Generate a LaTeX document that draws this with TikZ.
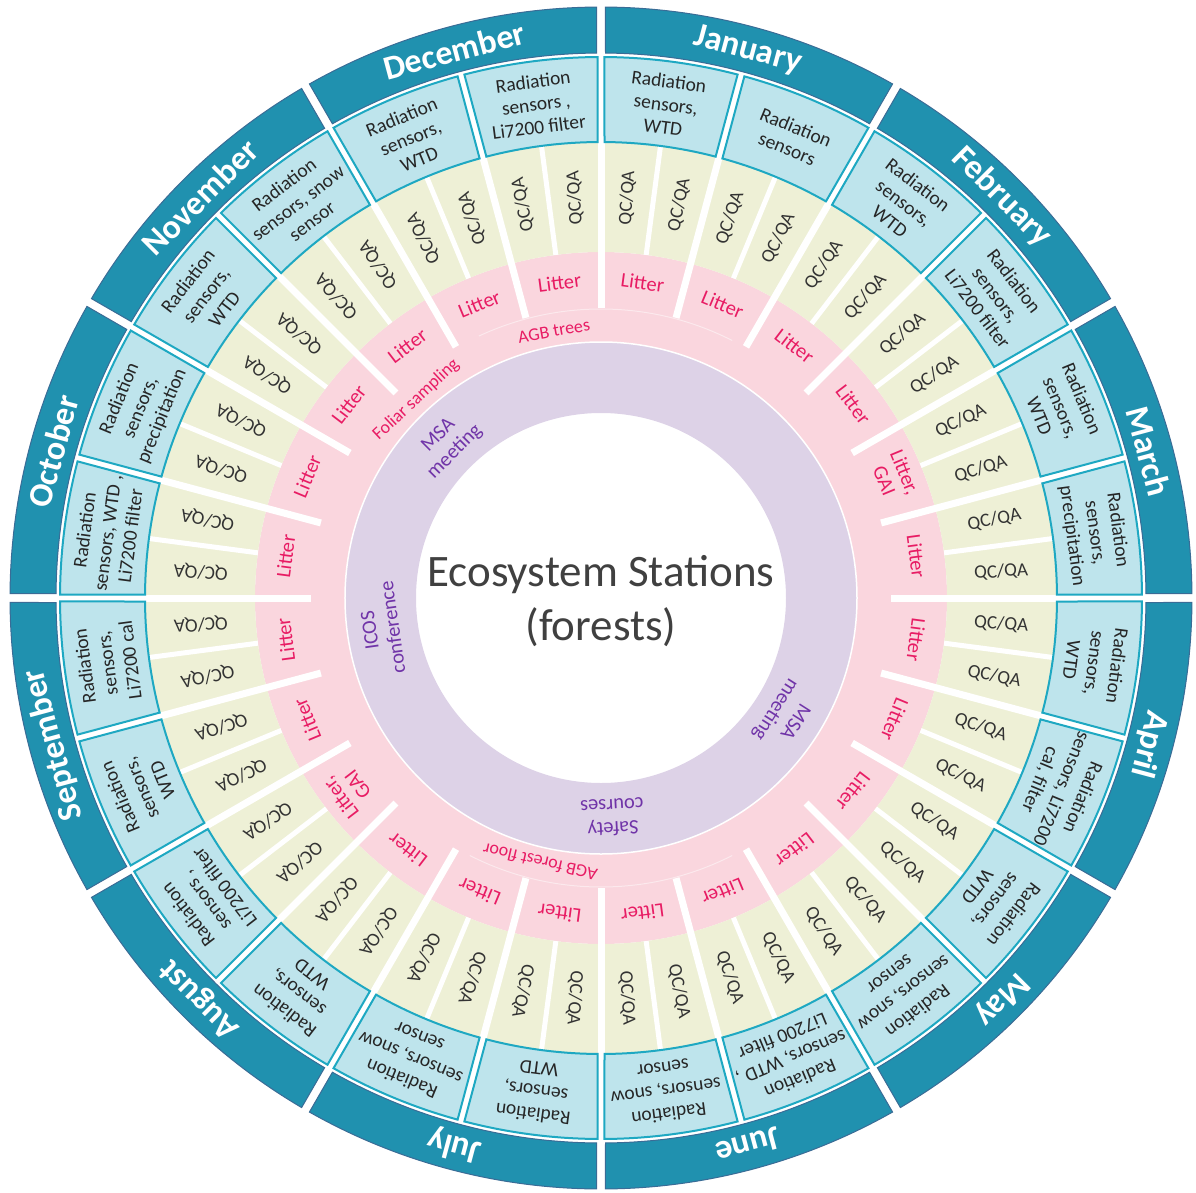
\documentclass[tikz,border=0pt]{standalone}
\usepackage{fontspec}
\setmainfont{Carlito}

\definecolor{monthteal}{RGB}{32,145,175}
\definecolor{monthedge}{RGB}{58,108,150}
\definecolor{boxblue}{RGB}{190,228,236}
\definecolor{boxedge}{RGB}{30,168,194}
\definecolor{qcbeige}{RGB}{238,240,214}
\definecolor{litterpink}{RGB}{250,214,222}
\definecolor{littertext}{RGB}{232,28,100}
\definecolor{eventlilac}{RGB}{221,210,231}
\definecolor{eventtext}{RGB}{112,52,168}
\definecolor{titlegray}{RGB}{64,64,64}

% annular sector with parallel gaps: start angle, end angle, inner r, outer r, half gap, style
\newcommand\ringsector[6]{%
  \pgfmathsetmacro\rsOa{#1-asin(#5/#4)}%
  \pgfmathsetmacro\rsOb{#2+asin(#5/#4)}%
  \pgfmathsetmacro\rsIa{#1-asin(#5/#3)}%
  \pgfmathsetmacro\rsIb{#2+asin(#5/#3)}%
  \draw[#6] (\rsOa:#4) arc[start angle=\rsOa, end angle=\rsOb, radius=#4]
    -- (\rsIb:#3) arc[start angle=\rsIb, end angle=\rsIa, radius=#3] -- cycle;
}

\begin{document}
\begin{tikzpicture}[
  x=1pt, y=1pt,
  monthseg/.style={fill=monthteal, draw=monthedge, line width=1pt},
  boxseg/.style={fill=boxblue, draw=boxedge, line width=2pt},
  gapline/.style={white, line width=7pt},
  thingap/.style={white, line width=5pt},
  monthtxt/.style={inner sep=0pt, font=\fontsize{34}{40}\selectfont\bfseries, text=white},
  boxtext/.style={align=center, font=\fontsize{19.5}{23}\selectfont, text=black!85},
  qctext/.style={font=\fontsize{19}{21}\selectfont, text=black!80},
  littertxt/.style={align=center, font=\fontsize{20.5}{22}\selectfont, text=littertext},
  sampletxt/.style={font=\fontsize{18}{20}\selectfont, text=littertext},
  eventtxt/.style={align=center, font=\fontsize{20.5}{23}\selectfont, text=eventtext},
  titletxt/.style={align=center, font=\fontsize{45}{54}\selectfont, text=titlegray}
]
\useasboundingbox (-601,-594) rectangle (595,598);

% Rings (inside out)
\fill[eventlilac, even odd rule] (0,0) circle[radius=256] (0,0) circle[radius=185];
\fill[litterpink, even odd rule] (0,0) circle[radius=346] (0,0) circle[radius=256];
\fill[qcbeige, even odd rule] (0,0) circle[radius=456] (0,0) circle[radius=346];
\draw[white, line width=1.5pt] (0,0) circle[radius=256];
\draw[white!45!litterpink, line width=1pt] (115:289) arc[start angle=115, end angle=63, radius=289];
\draw[white!45!litterpink, line width=1pt] (-63:289) arc[start angle=-63, end angle=-117, radius=289];

% Separators
\foreach \a in {0,15,...,345} \draw[gapline] (\a:290) -- (\a:458);
\foreach \a in {7.5,22.5,...,352.5} \draw[thingap] (\a:346) -- (\a:458);

% Sensor boxes and months
\foreach \a in {90,75,...,-255} \ringsector{\a}{\a-15}{456}{541}{3.5}{boxseg};
\foreach \a in {90,60,...,-240} \ringsector{\a}{\a-30}{545}{591}{4.5}{monthseg};

% Month labels
\node[monthtxt, rotate=-15] (jan) at (75:567) {January};
\node[monthtxt, rotate=-45] (feb) at (45:567) {February};
\node[monthtxt, rotate=-75] (mar) at (15:567) {March};
\node[monthtxt, rotate=-105] (apr) at (-15:567) {April};
\node[monthtxt, rotate=-135] (may) at (-45:567) {May};
\node[monthtxt, rotate=-165] (jun) at (-75:567) {June};
\node[monthtxt, rotate=-195] (jul) at (-105:567) {July};
\node[monthtxt, rotate=-225] (aug) at (-135:567) {August};
\node[monthtxt, rotate=-255] (sep) at (-165:567) {September};
\node[monthtxt, rotate=75] (oct) at (165:567) {October};
\node[monthtxt, rotate=45] (nov) at (135:567) {November};
\node[monthtxt, rotate=15] (dec) at (105:567) {December};

% Sensor maintenance
\foreach \a/\t [count=\i] in {
  82.5/{Radiation\\sensors,\\WTD}, 67.5/{Radiation\\sensors},
  52.5/{Radiation\\sensors,\\WTD}, 37.5/{Radiation\\sensors,\\Li7200 filter},
  22.5/{Radiation\\sensors,\\WTD}, 7.5/{Radiation\\sensors,\\precipitation},
  -7.5/{Radiation\\sensors,\\WTD}, -22.5/{Radiation\\sensors, Li7200\\cal, filter},
  -37.5/{Radiation\\sensors,\\WTD}, -52.5/{Radiation\\sensors, snow\\sensor},
  -67.5/{Radiation\\sensors, WTD ,\\Li7200 filter}, -82.5/{Radiation\\sensors, snow\\sensor},
  -97.5/{Radiation\\sensors,\\WTD}, -112.5/{Radiation\\sensors, snow\\sensor},
  -127.5/{Radiation\\sensors,\\WTD}, -142.5/{Radiation\\sensors ,\\Li7200 filter},
  -157.5/{Radiation\\sensors,\\WTD}, -172.5/{Radiation\\sensors,\\Li7200 cal},
  -187.5/{Radiation\\sensors, WTD ,\\Li7200 filter}, -202.5/{Radiation\\sensors,\\precipitation},
  -217.5/{Radiation\\sensors,\\WTD}, -232.5/{Radiation\\sensors, snow\\sensor},
  -247.5/{Radiation\\sensors,\\WTD}, -262.5/{Radiation\\sensors ,\\Li7200 filter}}
  \node[boxtext, rotate=\a-90] (box\i) at (\a:498) {\t};

% QC/QA
\foreach \i in {1,...,48} {
  \pgfmathsetmacro\a{93.75-7.5*\i}
  \node[qctext, rotate=\a] (qc\i) at (\a:401) {QC/QA};
}

% Litter
\foreach \a/\t [count=\i] in {
  97.5/Litter, 82.5/Litter, 67.5/Litter, 52.5/Litter, 37.5/Litter, 22.5/{Litter,\\GAI},
  7.5/Litter, -7.5/Litter, -22.5/Litter, -37.5/Litter, -52.5/Litter, -67.5/Litter,
  -82.5/Litter, -97.5/Litter, -112.5/Litter, -127.5/Litter, -142.5/{Litter,\\GAI}, -157.5/Litter,
  -172.5/Litter, -187.5/Litter, -202.5/Litter, -217.5/Litter, -232.5/Litter, -247.5/Litter}
  \node[littertxt, rotate=\a-90] (lit\i) at (\a:318) {\t};

% Sampling
\node[sampletxt, rotate=10] (agbtrees) at (100:271) {AGB trees};
\node[sampletxt, rotate=43] (foliar) at (133:271) {Foliar sampling};
\node[sampletxt, rotate=167] (agbfloor) at (-103:271) {AGB forest floor};

% Events
\node[eventtxt, rotate=45] (msa1) at (135:218) {MSA\\meeting};
\node[eventtxt, rotate=98] (icos) at (188:222) {ICOS\\conference};
\node[eventtxt, rotate=-177] (safety) at (-87:220) {Safety\\courses};
\node[eventtxt, rotate=-122.5] (msa2) at (-32.5:218) {MSA\\meeting};

\node[titletxt] (title) at (0,-3) {Ecosystem Stations\\(forests)};

\end{tikzpicture}
\end{document}
